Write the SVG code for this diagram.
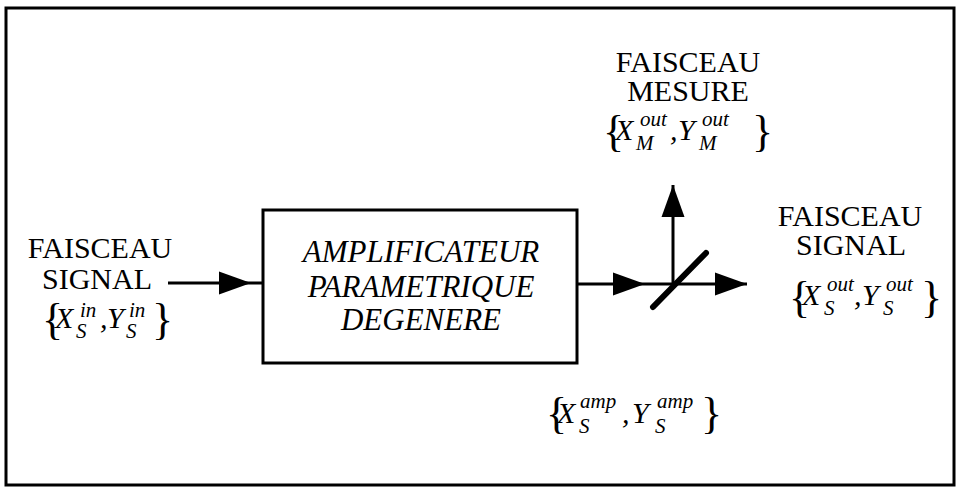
<svg xmlns="http://www.w3.org/2000/svg" width="957" height="487" viewBox="0 0 957 487">
<style>
text{font-family:'Liberation Serif','Times New Roman',serif;fill:#000}
.lbl{font-size:30px}
.box{font-style:italic;font-size:31px}
.m{font-style:italic;font-size:30px}
.s{font-size:21px}
.br{font-style:normal;font-size:44px}
.ln{fill:none;stroke:#000;stroke-width:3}
</style>
<defs>
<marker id="ah" markerUnits="userSpaceOnUse" markerWidth="33" markerHeight="24" refX="32" refY="12" orient="auto">
<path d="M0,0.5 L32,12 L0,23.5 z" fill="#000"/>
</marker>
</defs>
<rect x="6" y="8" width="948" height="477" fill="#fff" stroke="#000" stroke-width="3"/>

<g id="input-label">
<text class="lbl" x="100" y="258" text-anchor="middle">FAISCEAU</text>
<text class="lbl" x="97" y="289" text-anchor="middle">SIGNAL</text>
<text class="m"><tspan class="br" x="42" y="334">{</tspan><tspan x="55" y="328">X</tspan><tspan class="s" x="80" y="317">in</tspan><tspan class="s" x="76" y="338">S</tspan><tspan x="100" y="328">,</tspan><tspan x="107" y="328">Y</tspan><tspan class="s" x="129" y="317">in</tspan><tspan class="s" x="126" y="338">S</tspan><tspan class="br" x="152" y="334">}</tspan></text>
</g>

<g id="amplifier">
<rect x="263" y="210" width="314" height="153" fill="none" stroke="#000" stroke-width="3"/>
<text class="box" x="421" y="262" text-anchor="middle">AMPLIFICATEUR</text>
<text class="box" x="421" y="297" text-anchor="middle">PARAMETRIQUE</text>
<text class="box" x="421" y="330" text-anchor="middle">DEGENERE</text>
</g>

<g id="amp-label">
<text class="m"><tspan class="br" x="546" y="428">{</tspan><tspan x="557" y="423">X</tspan><tspan class="s" x="580" y="408">amp</tspan><tspan class="s" x="579" y="433">S</tspan><tspan x="622" y="423">,</tspan><tspan x="632" y="423">Y</tspan><tspan class="s" x="657" y="408">amp</tspan><tspan class="s" x="655" y="433">S</tspan><tspan class="br" x="701" y="428">}</tspan></text>
</g>

<g id="splitter">
<line x1="706" y1="253" x2="653" y2="307" stroke="#000" stroke-width="6" stroke-linecap="round"/>
</g>

<g id="measure-label">
<text class="lbl" x="688" y="72" text-anchor="middle">FAISCEAU</text>
<text class="lbl" x="688" y="101" text-anchor="middle">MESURE</text>
<text class="m"><tspan class="br" x="603" y="146">{</tspan><tspan x="615" y="140">X</tspan><tspan class="s" x="640" y="126">out</tspan><tspan class="s" x="636" y="150">M</tspan><tspan x="670" y="140">,</tspan><tspan x="678" y="140">Y</tspan><tspan class="s" x="702" y="126">out</tspan><tspan class="s" x="699" y="150">M</tspan><tspan class="br" x="752" y="146">}</tspan></text>
</g>

<g id="output-label">
<text class="lbl" x="850" y="226" text-anchor="middle">FAISCEAU</text>
<text class="lbl" x="851" y="255" text-anchor="middle">SIGNAL</text>
<text class="m"><tspan class="br" x="789" y="312">{</tspan><tspan x="802" y="305">X</tspan><tspan class="s" x="827" y="291">out</tspan><tspan class="s" x="824" y="315">S</tspan><tspan x="854" y="305">,</tspan><tspan x="862" y="305">Y</tspan><tspan class="s" x="886" y="291">out</tspan><tspan class="s" x="883" y="315">S</tspan><tspan class="br" x="921" y="312">}</tspan></text>
</g>

<g id="connectors">
<path class="ln" d="M168,283 L251,283 L263,283" marker-mid="url(#ah)"/>
<path class="ln" d="M577,284 L645,284 L673,284" marker-mid="url(#ah)"/>
<path class="ln" d="M673,284 L747,284" marker-end="url(#ah)"/>
<path class="ln" d="M673,284 L673,185" marker-end="url(#ah)"/>
</g>
</svg>
